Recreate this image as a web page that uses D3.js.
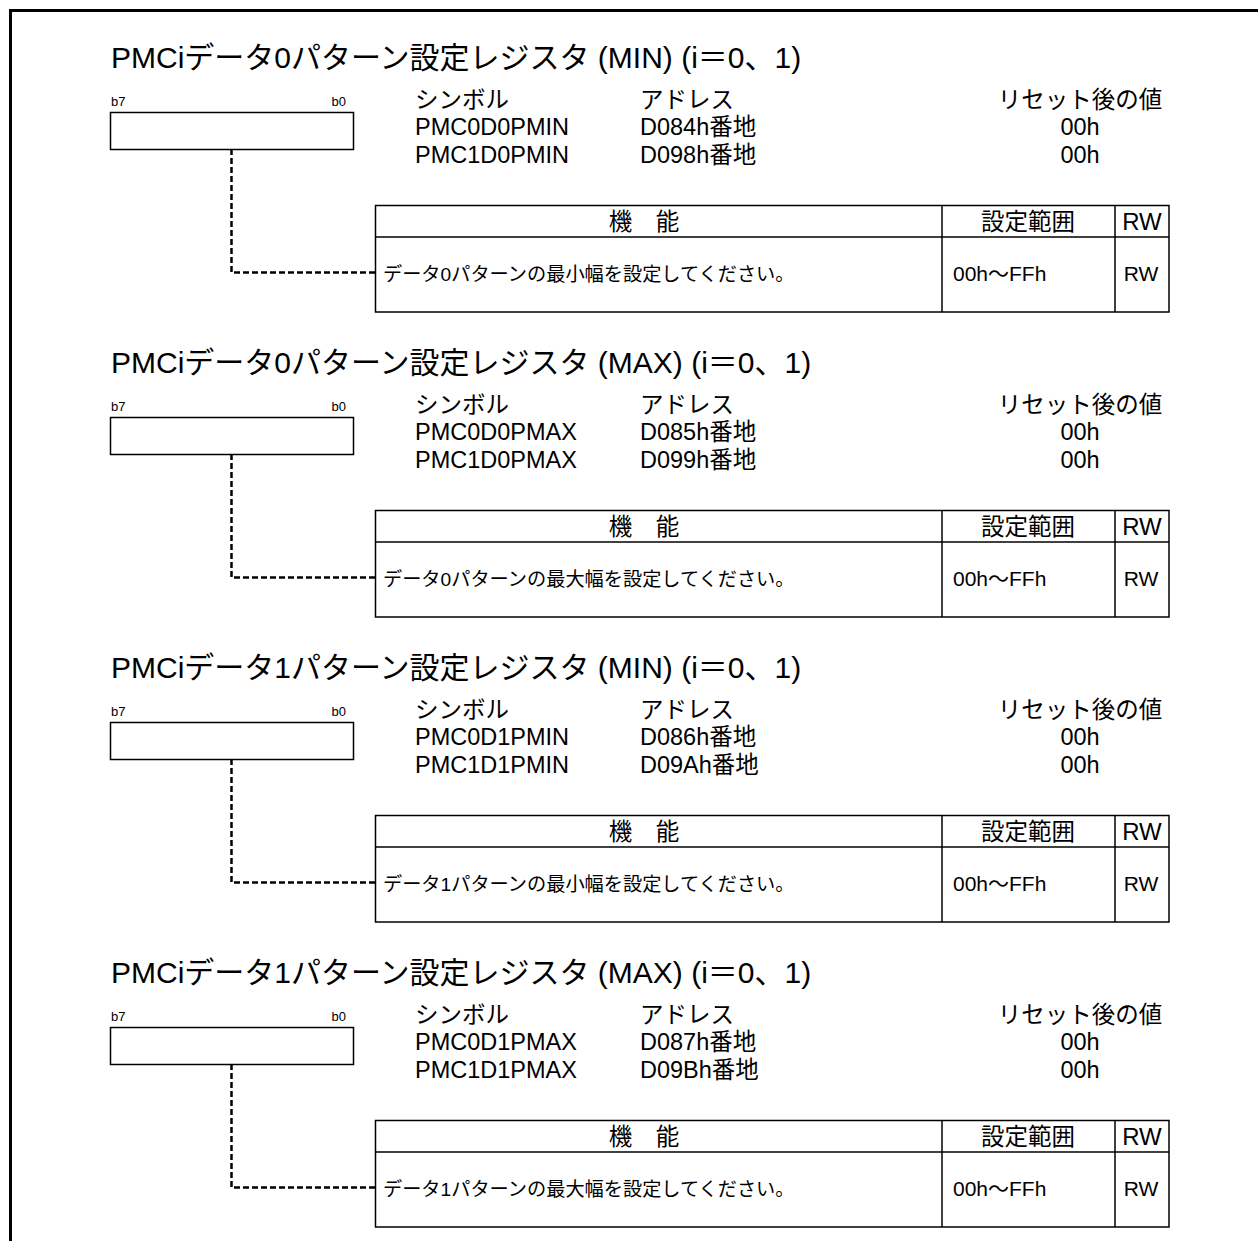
<!DOCTYPE html>
<html><head><meta charset="utf-8">
<script src="https://cdn.jsdelivr.net/npm/d3@7"></script>
<style>
html,body{margin:0;padding:0;background:#fff;}
svg text{font-family:"Liberation Sans",Arial,"Noto Sans CJK JP",sans-serif;fill:#000;}
</style></head>
<body>
<svg id="c" width="1258" height="1241"></svg>
<script>
const titles = [
  "PMCiデータ0パターン設定レジスタ (MIN) (i＝0、1)",
  "PMCiデータ0パターン設定レジスタ (MAX) (i＝0、1)",
  "PMCiデータ1パターン設定レジスタ (MIN) (i＝0、1)",
  "PMCiデータ1パターン設定レジスタ (MAX) (i＝0、1)"
];
const symbols0 = ["PMC0D0PMIN","PMC0D0PMAX","PMC0D1PMIN","PMC0D1PMAX"];
const symbols1 = ["PMC1D0PMIN","PMC1D0PMAX","PMC1D1PMIN","PMC1D1PMAX"];
const addresses0 = ["D084h番地","D085h番地","D086h番地","D087h番地"];
const addresses1 = ["D098h番地","D099h番地","D09Ah番地","D09Bh番地"];
const resets0 = ["00h","00h","00h","00h"];
const resets1 = ["00h","00h","00h","00h"];
const descriptions = [
  "データ0パターンの最小幅を設定してください。",
  "データ0パターンの最大幅を設定してください。",
  "データ1パターンの最小幅を設定してください。",
  "データ1パターンの最大幅を設定してください。"
];
const ranges = ["00h～FFh","00h～FFh","00h～FFh","00h～FFh"];
const rws = ["RW","RW","RW","RW"];
const headerLabels = ["シンボル","アドレス","リセット後の値"];
const tableHeaders = ["機\u3000能","設定範囲","RW"];
const bitLabels = ["b7","b0"];

const svg = d3.select("#c");
const W = 1258, H = 1241;

// frame
svg.append("line").attr("x1",10).attr("x2",W).attr("y1",10.5).attr("y2",10.5).attr("stroke","#000").attr("stroke-width",3);
svg.append("line").attr("x1",10.5).attr("x2",10.5).attr("y1",9).attr("y2",H).attr("stroke","#000").attr("stroke-width",3);

const sy = d3.scaleLinear().domain([0,1]).range([0,305]);

const sections = titles.map((t,i)=>({
  title:t, s0:symbols0[i], s1:symbols1[i], a0:addresses0[i], a1:addresses1[i],
  r0:resets0[i], r1:resets1[i], desc:descriptions[i], range:ranges[i], rw:rws[i]
}));

const g = svg.selectAll("g.sec").data(sections).join("g")
  .attr("class","sec")
  .attr("transform",(d,i)=>`translate(0,${sy(i)})`);

g.append("text").attr("x",111).attr("y",68).attr("font-size",30).text(d=>d.title);

// bit box
g.append("text").attr("x",111).attr("y",106).attr("font-size",13).text(bitLabels[0]);
g.append("text").attr("x",346).attr("y",106).attr("font-size",13).attr("text-anchor","end").text(bitLabels[1]);
g.append("rect").attr("x",110.5).attr("y",112.5).attr("width",243).attr("height",37)
  .attr("fill","none").attr("stroke","#000").attr("stroke-width",1.5);
g.append("path").attr("d","M231.5,149 V272.5 H375").attr("fill","none")
  .attr("stroke","#000").attr("stroke-width",2.5).attr("stroke-dasharray","6,3");

// header info
const fs = 23.5;
g.append("text").attr("x",415).attr("y",108).attr("font-size",fs).text(headerLabels[0]);
g.append("text").attr("x",640).attr("y",108).attr("font-size",fs).text(headerLabels[1]);
g.append("text").attr("x",1080).attr("y",108).attr("font-size",fs).attr("text-anchor","middle").text(headerLabels[2]);
g.append("text").attr("x",415).attr("y",135).attr("font-size",fs).text(d=>d.s0);
g.append("text").attr("x",415).attr("y",163).attr("font-size",fs).text(d=>d.s1);
g.append("text").attr("x",640).attr("y",135).attr("font-size",fs).text(d=>d.a0);
g.append("text").attr("x",640).attr("y",163).attr("font-size",fs).text(d=>d.a1);
g.append("text").attr("x",1080).attr("y",135).attr("font-size",fs).attr("text-anchor","middle").text(d=>d.r0);
g.append("text").attr("x",1080).attr("y",163).attr("font-size",fs).attr("text-anchor","middle").text(d=>d.r1);

// table
const tx0 = 375.5, tx1 = 1169, ty0 = 205.5, tyH = 237, ty1 = 312;
const colX = [942, 1115];
g.append("rect").attr("x",tx0).attr("y",ty0).attr("width",tx1-tx0).attr("height",ty1-ty0)
  .attr("fill","none").attr("stroke","#000").attr("stroke-width",1.5);
g.append("line").attr("x1",tx0).attr("x2",tx1).attr("y1",tyH).attr("y2",tyH).attr("stroke","#000").attr("stroke-width",1.5);
colX.forEach(x=>{
  g.append("line").attr("x1",x).attr("x2",x).attr("y1",ty0).attr("y2",ty1).attr("stroke","#000").attr("stroke-width",1.5);
});
g.append("text").attr("x",644).attr("y",230).attr("font-size",23.5).attr("text-anchor","middle").text(tableHeaders[0]);
g.append("text").attr("x",1028).attr("y",230).attr("font-size",23.5).attr("text-anchor","middle").text(tableHeaders[1]);
g.append("text").attr("x",1142).attr("y",230).attr("font-size",24).attr("text-anchor","middle").text(tableHeaders[2]);
g.append("text").attr("x",383).attr("y",281).attr("font-size",19.2).text(d=>d.desc);
g.append("text").attr("x",953).attr("y",281).attr("font-size",21).text(d=>d.range);
g.append("text").attr("x",1141).attr("y",281).attr("font-size",21).attr("text-anchor","middle").text(d=>d.rw);
</script>
</body></html>
